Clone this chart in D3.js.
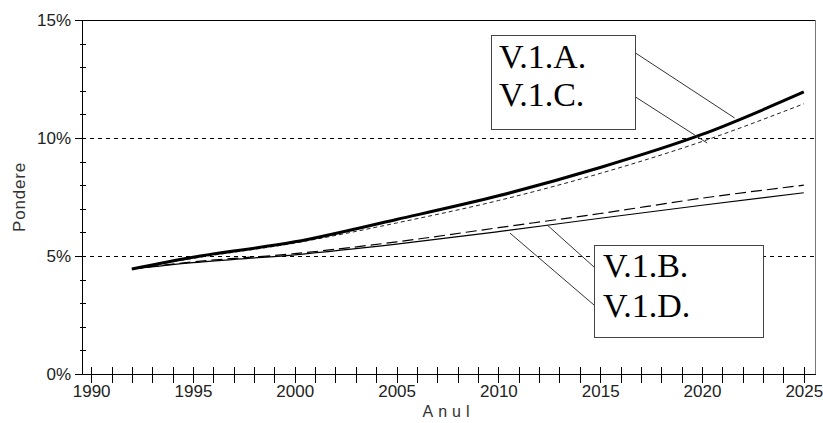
<!DOCTYPE html>
<html>
<head>
<meta charset="utf-8">
<script src="https://cdn.jsdelivr.net/npm/d3@7"></script>
<style>
  body { margin: 0; background: #fff; }
  svg { display: block; }
  .crisp line, .crisp path, line.crisp, rect.crisp { shape-rendering: crispEdges; }
</style>
</head>
<body>
<svg></svg>
<script>
// (percent)
var years = [1992, 1995, 2000, 2005, 2010, 2015, 2020, 2025];
var v1a = [4.45, 4.95, 5.6, 6.55, 7.55, 8.75, 10.15, 11.95];
var v1c = [4.45, 4.9, 5.55, 6.4, 7.35, 8.5, 9.85, 11.45];
var v1b = [4.45, 4.75, 5.1, 5.6, 6.2, 6.8, 7.45, 8.0];
var v1d = [4.45, 4.72, 5.05, 5.5, 6.03, 6.6, 7.15, 7.68];

var yTicks = [0, 5, 10, 15];
var xLabelYears = [1990, 1995, 2000, 2005, 2010, 2015, 2020, 2025];

// where the label leaders touch the curves: [year, value]
var leaderA = [2021.6, 10.85];
var leaderC = [2020.25, 9.79];
var leaderB = [2012.4, 6.31];
var leaderD = [2010.57, 5.97];

var screen = {width: 823, height: 423};
var plot = {left: 82, right: 815, top: 20, bottom: 374};

var svg = d3.select("svg")
            .attr("width", screen.width)
            .attr("height", screen.height);

var x = d3.scaleLinear()
          .domain([1989.55, 2025.55])
          .range([plot.left, plot.right]);
var y = d3.scaleLinear()
          .domain([0, 15])
          .range([plot.bottom, plot.top]);

var font = "'Liberation Sans', Arial, sans-serif";

// dashed grid at 5% and 10%
svg.append("g")
   .attr("class", "crisp")
   .selectAll("line")
   .data([5, 10])
   .enter()
   .append("line")
   .attr("x1", plot.left)
   .attr("x2", plot.right)
   .attr("y1", function(d){ return y(d); })
   .attr("y2", function(d){ return y(d); })
   .attr("stroke", "#000")
   .attr("stroke-dasharray", "4,4");

// frame top + right
svg.append("line")
   .attr("class", "crisp")
   .attr("x1", plot.left).attr("x2", plot.right)
   .attr("y1", plot.top).attr("y2", plot.top)
   .attr("stroke", "#000");
svg.append("line")
   .attr("class", "crisp")
   .attr("x1", plot.right).attr("x2", plot.right)
   .attr("y1", plot.top).attr("y2", plot.bottom)
   .attr("stroke", "#777");

// y minor ticks (every 1%), crossing the axis
var yMinor = svg.append("g")
   .attr("class", "crisp")
   .attr("transform", "translate(" + plot.left + ",0)")
   .call(d3.axisLeft(y).tickValues(d3.range(1, 15)).tickFormat("").tickSize(0));
yMinor.select(".domain").remove();
yMinor.selectAll(".tick line").attr("x1", -2).attr("x2", 4).attr("stroke", "#000");

// y main axis
var yAxis = svg.append("g")
   .attr("class", "crisp")
   .attr("transform", "translate(" + plot.left + ",0)")
   .call(d3.axisLeft(y)
           .tickValues(yTicks)
           .tickSize(7)
           .tickPadding(4)
           .tickFormat(function(d){ return d + "%"; }));
yAxis.select(".domain").attr("stroke", "#000");
yAxis.selectAll("text")
     .attr("font-family", font)
     .attr("font-size", 17)
     .attr("fill", "#222");

// x axis: tick each year, label every 5
var xAxis = svg.append("g")
   .attr("class", "crisp")
   .attr("transform", "translate(0," + plot.bottom + ")")
   .call(d3.axisBottom(x)
           .tickValues(d3.range(1990, 2026))
           .tickSize(0)
           .tickFormat(function(d){ return xLabelYears.indexOf(d) >= 0 ? d : ""; }));
xAxis.select(".domain").attr("stroke", "#000");
xAxis.selectAll(".tick line").attr("y1", -7).attr("y2", 9).attr("stroke", "#000");
xAxis.selectAll("text")
     .attr("y", 11)
     .attr("font-family", font)
     .attr("font-size", 17)
     .attr("fill", "#222");

// axis titles
svg.append("text")
   .attr("x", (plot.left + plot.right) / 2)
   .attr("y", 417)
   .attr("text-anchor", "middle")
   .attr("font-family", font)
   .attr("font-size", 16)
   .attr("letter-spacing", 5)
   .attr("fill", "#333")
   .text("Anul");

svg.append("text")
   .attr("transform", "translate(25,197) rotate(-90)")
   .attr("text-anchor", "middle")
   .attr("font-family", font)
   .attr("font-size", 17)
   .attr("letter-spacing", 0.8)
   .attr("fill", "#333")
   .text("Pondere");

// series
var series = [
  {name: "V.1.D.", values: v1d, width: 1.2, dash: null, color: "#000"},
  {name: "V.1.B.", values: v1b, width: 1.2, dash: "11,5", color: "#000"},
  {name: "V.1.C.", values: v1c, width: 1, dash: "4,3", color: "#222"},
  {name: "V.1.A.", values: v1a, width: 3, dash: null, color: "#000"}
];

var line = d3.line()
   .x(function(d){ return x(d[0]); })
   .y(function(d){ return y(d[1]); })
   .curve(d3.curveMonotoneX);

svg.append("g")
   .selectAll("path")
   .data(series)
   .enter()
   .append("path")
   .attr("d", function(s){ return line(d3.zip(years, s.values)); })
   .attr("fill", "none")
   .attr("stroke", function(s){ return s.color; })
   .attr("stroke-width", function(s){ return s.width; })
   .attr("stroke-dasharray", function(s){ return s.dash; });

// label boxes with leader lines
var boxes = [
  {x: 491, y: 35, w: 144, h: 94, labels: ["V.1.A.", "V.1.C."], base: [68, 106], tx: 499,
   leaders: [{from: [634, 52], to: leaderA}, {from: [634, 96], to: leaderC}]},
  {x: 594, y: 245, w: 169, h: 92, labels: ["V.1.B.", "V.1.D."], base: [277, 317], tx: 603,
   leaders: [{from: [594, 267], to: leaderB}, {from: [594, 305], to: leaderD}]}
];

boxes.forEach(function(b){
  b.leaders.forEach(function(l){
    svg.append("line")
       .attr("x1", l.from[0]).attr("y1", l.from[1])
       .attr("x2", x(l.to[0])).attr("y2", y(l.to[1]))
       .attr("stroke", "#333")
       .attr("stroke-width", 1);
  });
  svg.append("rect")
     .attr("class", "crisp")
     .attr("x", b.x + 0.5).attr("y", b.y + 0.5)
     .attr("width", b.w).attr("height", b.h)
     .attr("fill", "#fff")
     .attr("stroke", "#444");
  b.labels.forEach(function(t, i){
    svg.append("text")
       .attr("x", b.tx)
       .attr("y", b.base[i])
       .attr("font-family", "'Liberation Serif', 'Times New Roman', serif")
       .attr("font-size", 34)
       .attr("fill", "#000")
       .text(t);
  });
});
</script>
</body>
</html>
